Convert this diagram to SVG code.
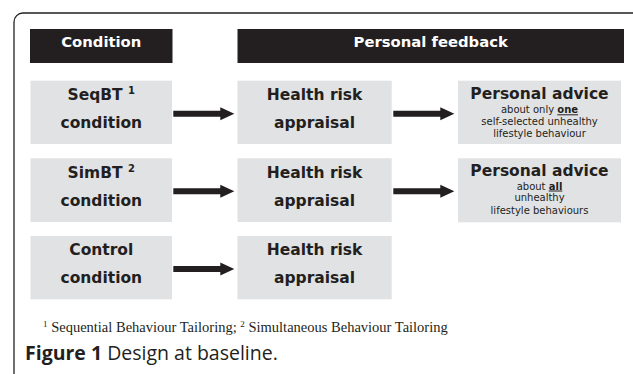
<svg xmlns="http://www.w3.org/2000/svg" width="633" height="374" viewBox="0 0 633 374">
<defs>
<style>
.hdr{fill:#231f20}
.box{fill:#e1e2e4}
.ht{font-family:"DejaVu Sans",Verdana,sans-serif;font-weight:bold;font-size:14.8px;fill:#ffffff;text-anchor:middle}
.bt{font-family:"DejaVu Sans",Verdana,sans-serif;font-weight:bold;font-size:15.5px;fill:#231f20;text-anchor:middle}
.st{font-family:"DejaVu Sans",Verdana,sans-serif;font-size:10px;fill:#231f20;text-anchor:middle}
.sb{font-weight:bold;text-decoration:underline}
.arr{fill:#231f20}
.fn{font-family:"Liberation Serif","Times New Roman",serif;font-size:14.5px;fill:#231f20}
.cap{font-family:"Open Sans",sans-serif;font-size:19.5px;fill:#231f20}
</style>
<polygon id="arrowShape" points="0,-3 47,-3 47,-6.5 61,0 47,6.5 47,3 0,3"/>
</defs>
<rect x="14" y="13" width="660" height="420" rx="9" fill="none" stroke="#231f20" stroke-width="1.3"/>
<g id="hdr-condition">
<rect class="hdr" x="30" y="29" width="142.5" height="34"/>
<text class="ht" x="101.3" y="46.7">Condition</text>
</g>
<g id="hdr-feedback">
<rect class="hdr" x="237.5" y="29" width="386.5" height="34"/>
<text class="ht" x="430.7" y="46.7">Personal feedback</text>
</g>
<g id="seqbt">
<rect class="box" x="30.5" y="80.7" width="141.5" height="63.3"/>
<text class="bt" x="101.3" y="100">SeqBT <tspan font-size="10px" dy="-6">1</tspan></text>
<text class="bt" x="101.3" y="128">condition</text>
</g>
<g id="hra1">
<rect class="box" x="237.5" y="80.7" width="154.2" height="63.3"/>
<text class="bt" x="314.6" y="100">Health risk</text>
<text class="bt" x="314.6" y="128">appraisal</text>
</g>
<g id="advice1">
<rect class="box" x="458" y="80.7" width="163" height="63.3"/>
<text class="bt" x="539.5" y="99.3" font-size="16px">Personal advice</text>
<text class="st" x="539.5" y="113.3">about only <tspan class="sb">one</tspan></text>
<text class="st" x="539.5" y="125">self-selected unhealthy</text>
<text class="st" x="539.5" y="136.5">lifestyle behaviour</text>
</g>
<g id="simbt">
<rect class="box" x="30.5" y="158.3" width="141.5" height="63.7"/>
<text class="bt" x="101.3" y="177.6">SimBT <tspan font-size="10px" dy="-6">2</tspan></text>
<text class="bt" x="101.3" y="205.6">condition</text>
</g>
<g id="hra2">
<rect class="box" x="237.5" y="158.3" width="154.2" height="63.7"/>
<text class="bt" x="314.6" y="177.6">Health risk</text>
<text class="bt" x="314.6" y="205.6">appraisal</text>
</g>
<g id="advice2">
<rect class="box" x="458" y="158.3" width="163" height="64"/>
<text class="bt" x="539.5" y="176" font-size="16px">Personal advice</text>
<text class="st" x="539.5" y="189.5">about <tspan class="sb">all</tspan></text>
<text class="st" x="539.5" y="201.2">unhealthy</text>
<text class="st" x="539.5" y="213.5">lifestyle behaviours</text>
</g>
<g id="control">
<rect class="box" x="30.5" y="236" width="141.5" height="63.3"/>
<text class="bt" x="101.3" y="255">Control</text>
<text class="bt" x="101.3" y="283">condition</text>
</g>
<g id="hra3">
<rect class="box" x="237.5" y="236" width="154.2" height="63.3"/>
<text class="bt" x="314.6" y="255">Health risk</text>
<text class="bt" x="314.6" y="283">appraisal</text>
</g>
<g id="connectors" class="arr">
<use href="#arrowShape" x="173.3" y="113.7"/>
<use href="#arrowShape" x="393.3" y="113.7"/>
<use href="#arrowShape" x="173.3" y="191.3"/>
<use href="#arrowShape" x="393.3" y="191.3"/>
<use href="#arrowShape" x="173.3" y="269"/>
</g>
<text class="fn" x="43" y="331.7"><tspan font-size="9px" dy="-5">1</tspan><tspan dy="5"> Sequential Behaviour Tailoring; </tspan><tspan font-size="9px" dy="-5">2</tspan><tspan dy="5"> Simultaneous Behaviour Tailoring</tspan></text>
<text class="cap" x="25" y="360"><tspan font-weight="bold">Figure 1</tspan> Design at baseline.</text>
</svg>
